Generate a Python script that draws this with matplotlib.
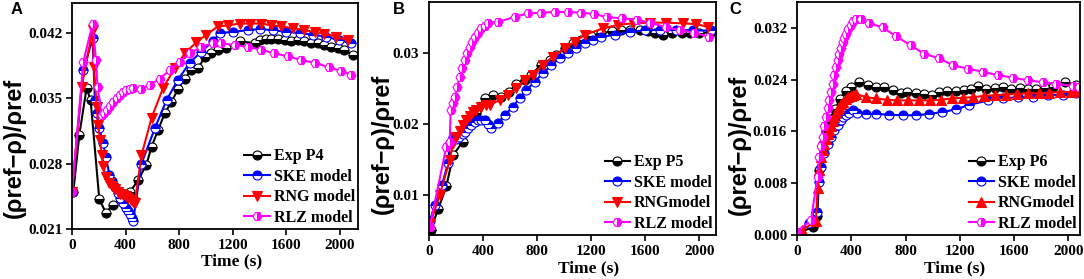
import numpy as np
import matplotlib.pyplot as plt
from matplotlib.ticker import FormatStrFormatter

# ---- Panel A (P4) ----
a_exp_t = [10, 55, 109, 139, 204, 254, 303, 388, 433, 494, 556, 594, 643, 693, 743, 792, 842, 892,
           941, 991, 1041, 1090, 1148, 1252, 1364, 1401, 1446, 1488, 1536, 1587, 1637, 1687, 1736,
           1786, 1836, 1885, 1935, 1985, 2034, 2096]
a_exp_v = [0.0250, 0.0311, 0.0361, 0.0348, 0.0242, 0.0227, 0.0236, 0.0245, 0.0250, 0.0262, 0.0279,
           0.0298, 0.0316, 0.0334, 0.0346, 0.0360, 0.0371, 0.0380, 0.0382, 0.0394, 0.0398, 0.0402,
           0.0404, 0.0411, 0.0409, 0.0412, 0.0413, 0.0413, 0.0413, 0.0412, 0.0411, 0.0412, 0.0411,
           0.0409, 0.0409, 0.0407, 0.0405, 0.0404, 0.0402, 0.0396]
a_ske_t = [0, 85, 154, 171, 184, 203, 233, 253, 280, 300, 320, 340, 360, 380, 400, 415, 430, 445, 457,
           519, 619, 706, 792, 879, 966, 1053, 1103, 1200, 1314, 1401, 1500, 1600, 1699, 1798, 1898,
           1997, 2084]
a_ske_v = [0.0250, 0.0380, 0.0414, 0.0348, 0.0334, 0.0318, 0.0302, 0.0287, 0.0268, 0.0261, 0.0255,
           0.0249, 0.0243, 0.0238, 0.0233, 0.0229, 0.0226, 0.0222, 0.0219, 0.0280, 0.0318, 0.0348,
           0.0370, 0.0388, 0.0400, 0.0411, 0.0420, 0.0421, 0.0423, 0.0424, 0.0423, 0.0421, 0.0420,
           0.0418, 0.0416, 0.0412, 0.0409]
a_rng_t = [0, 72, 154, 164, 184, 196, 209, 221, 233, 253, 280, 300, 320, 340, 360, 380, 400, 420, 440,
           455, 469, 519, 594, 680, 767, 842, 929, 1003, 1090, 1165, 1252, 1326, 1413, 1488, 1562, 1649,
           1736, 1811, 1885, 1972, 2059]
a_rng_v = [0.0250, 0.0362, 0.0423, 0.0384, 0.0341, 0.0321, 0.0305, 0.0289, 0.0277, 0.0266, 0.0259,
           0.0256, 0.0253, 0.0250, 0.0248, 0.0246, 0.0245, 0.0243, 0.0241, 0.0239, 0.0238, 0.0289,
           0.0329, 0.0361, 0.0382, 0.0398, 0.0410, 0.0418, 0.0427, 0.0428, 0.0430, 0.0430, 0.0430,
           0.0428, 0.0427, 0.0425, 0.0423, 0.0421, 0.0419, 0.0416, 0.0412]
a_rlz_t = [0, 85, 154, 179, 191, 221, 240, 258, 283, 308, 333, 358, 383, 407, 432, 457, 519, 581, 656,
           730, 805, 879, 966, 1053, 1115, 1215, 1314, 1413, 1512, 1612, 1711, 1811, 1922, 2010, 2084]
a_rlz_v = [0.0250, 0.0389, 0.0430, 0.0391, 0.0362, 0.0332, 0.0334, 0.0337, 0.0342, 0.0346, 0.0350,
           0.0354, 0.0357, 0.0359, 0.0360, 0.0361, 0.0360, 0.0364, 0.0371, 0.0380, 0.0389, 0.0398,
           0.0405, 0.0409, 0.0409, 0.0407, 0.0405, 0.0402, 0.0398, 0.0395, 0.0391, 0.0388, 0.0383,
           0.0379, 0.0375]

# ---- Panel B (P5) ----
b_exp_t = [12, 67, 128, 178, 251, 300, 350, 411, 472, 534, 595, 644, 710, 757, 831, 893, 942, 1004,
           1065, 1127, 1200, 1274, 1350, 1420, 1490, 1560, 1620, 1670, 1731, 1800, 1870, 1929, 2000,
           2089]
b_exp_v = [0.0051, 0.0080, 0.0112, 0.0156, 0.0175, 0.0200, 0.0215, 0.0236, 0.0240, 0.0238, 0.0245,
           0.0256, 0.0262, 0.0269, 0.0283, 0.0290, 0.0297, 0.0306, 0.0313, 0.0318, 0.0323, 0.0327,
           0.0330, 0.0331, 0.0332, 0.0331, 0.0330, 0.0327, 0.0325, 0.0327, 0.0328, 0.0327, 0.0327,
           0.0329]
b_ske_t = [5, 42, 96, 140, 153, 178, 200, 225, 250, 263, 287, 312, 337, 362, 387, 411, 436, 460, 510,
           559, 621, 670, 719, 781, 842, 904, 966, 1028, 1089, 1151, 1212, 1273, 1374, 1485, 1596,
           1707, 1830, 1953, 2089]
b_ske_v = [0.0063, 0.0086, 0.0114, 0.0145, 0.0173, 0.0182, 0.0178, 0.0182, 0.0186, 0.0189, 0.0194,
           0.0198, 0.0202, 0.0205, 0.0206, 0.0205, 0.0200, 0.0194, 0.0201, 0.0212, 0.0224, 0.0236,
           0.0247, 0.0259, 0.0271, 0.0282, 0.0292, 0.0299, 0.0306, 0.0313, 0.0318, 0.0322, 0.0325,
           0.0329, 0.0331, 0.0332, 0.0332, 0.0331, 0.0331]
b_rng_t = [10, 79, 153, 178, 203, 228, 252, 276, 300, 325, 350, 387, 418, 448, 522, 584, 645, 707, 768,
           842, 916, 1003, 1077, 1153, 1288, 1399, 1510, 1633, 1756, 1879, 1978, 2064]
b_rng_v = [0.0060, 0.0100, 0.0149, 0.0173, 0.0182, 0.0190, 0.0198, 0.0205, 0.0211, 0.0216, 0.0220,
           0.0224, 0.0226, 0.0227, 0.0233, 0.0240, 0.0250, 0.0262, 0.0269, 0.0283, 0.0294, 0.0306,
           0.0315, 0.0325, 0.0334, 0.0339, 0.0341, 0.0342, 0.0342, 0.0341, 0.0340, 0.0336]
b_rlz_t = [5, 128, 153, 160, 175, 190, 208, 227, 245, 263, 282, 300, 318, 337, 362, 387, 411, 436, 510,
           633, 731, 831, 930, 1027, 1126, 1224, 1313, 1426, 1537, 1633, 1750, 1860, 1960, 2075]
b_rlz_v = [0.0055, 0.0168, 0.0175, 0.0219, 0.0229, 0.0238, 0.0252, 0.0266, 0.0278, 0.0290, 0.0299,
           0.0308, 0.0315, 0.0322, 0.0328, 0.0334, 0.0338, 0.0342, 0.0343, 0.0350, 0.0355, 0.0356,
           0.0357, 0.0357, 0.0356, 0.0354, 0.0350, 0.0348, 0.0346, 0.0342, 0.0336, 0.0331, 0.0328,
           0.0322]

# ---- Panel C (P6) ----
c_exp_t = [10, 115, 150, 165, 190, 215, 245, 280, 320, 359, 400, 458, 520, 581, 642, 704, 765, 814,
           876, 937, 998, 1047, 1108, 1170, 1231, 1280, 1337, 1396, 1458, 1519, 1580, 1642, 1703, 1764,
           1826, 1887, 1978, 2059]
c_exp_v = [0.0003, 0.0012, 0.0030, 0.0100, 0.0140, 0.0160, 0.0180, 0.0195, 0.0210, 0.0222, 0.0228,
           0.0237, 0.0232, 0.0229, 0.0228, 0.0224, 0.0220, 0.0221, 0.0219, 0.0218, 0.0216, 0.0221,
           0.0222, 0.0223, 0.0224, 0.0225, 0.0230, 0.0225, 0.0227, 0.0229, 0.0226, 0.0227, 0.0225,
           0.0226, 0.0227, 0.0228, 0.0236, 0.0232]
c_ske_t = [5, 91, 145, 160, 177, 201, 226, 250, 275, 299, 324, 342, 361, 385, 410, 446, 508, 581, 680,
           778, 876, 974, 1072, 1170, 1268, 1409, 1519, 1630, 1740, 1850, 1961, 2059]
c_ske_v = [0.0003, 0.0018, 0.0036, 0.0082, 0.0105, 0.0126, 0.0140, 0.0152, 0.0163, 0.0170, 0.0178,
           0.0182, 0.0185, 0.0189, 0.0193, 0.0188, 0.0187, 0.0187, 0.0186, 0.0185, 0.0185, 0.0187,
           0.0190, 0.0194, 0.0201, 0.0208, 0.0211, 0.0213, 0.0214, 0.0216, 0.0217, 0.0219]
c_rng_t = [40, 140, 152, 164, 177, 189, 201, 213, 226, 238, 250, 263, 275, 287, 299, 312, 324, 342,
           361, 379, 397, 415, 434, 508, 581, 660, 740, 820, 900, 980, 1060, 1140, 1220, 1300, 1380,
           1460, 1540, 1620, 1700, 1780, 1860, 1940, 2020, 2080]
c_rng_v = [0.0008, 0.0021, 0.0072, 0.0100, 0.0121, 0.0131, 0.0141, 0.0149, 0.0156, 0.0163, 0.0169,
           0.0176, 0.0182, 0.0188, 0.0194, 0.0198, 0.0202, 0.0206, 0.0210, 0.0213, 0.0215, 0.0217,
           0.0218, 0.0213, 0.0211, 0.0209, 0.0208, 0.0208, 0.0208, 0.0208, 0.0209, 0.0211, 0.0212,
           0.0213, 0.0215, 0.0216, 0.0217, 0.0218, 0.0219, 0.0219, 0.0220, 0.0221, 0.0221, 0.0222]
c_rlz_t = [0, 103, 152, 164, 176, 189, 201, 213, 226, 238, 250, 263, 275, 287, 299, 311, 324, 336,
           349, 361, 379, 397, 415, 434, 471, 532, 631, 729, 839, 937, 1047, 1151, 1262, 1372, 1482,
           1592, 1703, 1813, 1911, 2034, 2080]
c_rlz_v = [0.0005, 0.0023, 0.0090, 0.0121, 0.0137, 0.0152, 0.0168, 0.0183, 0.0196, 0.0208, 0.0221,
           0.0234, 0.0247, 0.0260, 0.0270, 0.0280, 0.0289, 0.0298, 0.0305, 0.0311, 0.0318, 0.0324,
           0.0330, 0.0334, 0.0333, 0.0327, 0.0321, 0.0307, 0.0293, 0.0280, 0.0273, 0.0262, 0.0257,
           0.0252, 0.0247, 0.0243, 0.0239, 0.0236, 0.0234, 0.0230, 0.0229]

panels = [
    dict(letter="A", exp="Exp P4", rng="RNG model", rng_marker="v",
         data=[(a_exp_t, a_exp_v), (a_ske_t, a_ske_v), (a_rng_t, a_rng_v), (a_rlz_t, a_rlz_v)],
         pos=[0.0664, 0.1792, 0.2639, 0.8100], xlim=2136, ylim=(0.021, 0.0452),
         yticks=[0.021, 0.028, 0.035, 0.042], fmt="%.3f", ylab=(-0.203, 0.36), letter_xy=(17, 10)),
    dict(letter="B", exp="Exp P5", rng="RNGmodel", rng_marker="v",
         data=[(b_exp_t, b_exp_v), (b_ske_t, b_ske_v), (b_rng_t, b_rng_v), (b_rlz_t, b_rlz_v)],
         pos=[0.3958, 0.1577, 0.2647, 0.8351], xlim=2123, ylim=(0.00438, 0.0371),
         yticks=[0.01, 0.02, 0.03], fmt="%.2f", ylab=(-0.163, 0.39), letter_xy=(399, 10)),
    dict(letter="C", exp="Exp P6", rng="RNGmodel", rng_marker="^",
         data=[(c_exp_t, c_exp_v), (c_ske_t, c_ske_v), (c_rng_t, c_rng_v), (c_rlz_t, c_rlz_v)],
         pos=[0.7352, 0.1577, 0.2611, 0.8351], xlim=2085, ylim=(0.0, 0.0360),
         yticks=[0.0, 0.008, 0.016, 0.024, 0.032], fmt="%.3f", ylab=(-0.205, 0.386), letter_xy=(735, 9)),
]

serif = "Liberation Serif"
sans = "Liberation Sans"

fig = plt.figure(figsize=(10.84, 2.79), dpi=100)

for p in panels:
    ax = fig.add_axes(p["pos"])
    styles = [
        dict(color="black", marker="o", fillstyle="bottom", label=p["exp"]),
        dict(color="#0000FF", marker="o", fillstyle="top", label="SKE model"),
        dict(color="#FF0000", marker=p["rng_marker"], fillstyle="full", label=p["rng"]),
        dict(color="#FF00FF", marker="H", fillstyle="right", label="RLZ model"),
    ]
    for (t, v), st in zip(p["data"], styles):
        ax.plot(t, v, color=st["color"], lw=1.5, marker=st["marker"], ms=6.5,
                fillstyle=st["fillstyle"], markerfacecolor=st["color"],
                markerfacecoloralt="white", markeredgecolor=st["color"],
                markeredgewidth=0.8, label=st["label"])

    ax.set_xlim(0, p["xlim"])
    ax.set_ylim(*p["ylim"])
    ax.set_xticks([0, 400, 800, 1200, 1600, 2000])
    ax.set_yticks(p["yticks"])
    ax.yaxis.set_major_formatter(FormatStrFormatter(p["fmt"]))
    for s in ax.spines.values():
        s.set_linewidth(1.3)
    ax.tick_params(direction="out", length=4, width=1.2, pad=3)
    for lab in ax.get_xticklabels() + ax.get_yticklabels():
        lab.set_fontfamily(serif)
        lab.set_fontweight("bold")
        lab.set_fontsize(11)

    ax.set_xlabel("Time (s)", fontfamily=serif, fontweight="bold", fontsize=12.5, va="center")
    ax.xaxis.set_label_coords(0.557, -0.142)
    ax.set_ylabel("(\u03c1ref\u2212\u03c1)/\u03c1ref", fontfamily=sans, fontweight="bold",
                  fontsize=17, va="center")
    ax.yaxis.set_label_coords(*p["ylab"])

    ax.legend(loc="lower right", bbox_to_anchor=(1.0, 0.0), frameon=False, numpoints=1,
              handlelength=1.6, handletextpad=0.25, labelspacing=0.28, borderaxespad=0.0,
              borderpad=0.2, prop=dict(family=serif, weight="bold", size=11.5))

    fig.text(p["letter_xy"][0] / 1084, 1 - p["letter_xy"][1] / 279, p["letter"],
             fontfamily=sans, fontweight="bold", fontsize=12, ha="center", va="center")

fig.savefig("out.png", dpi=100)
